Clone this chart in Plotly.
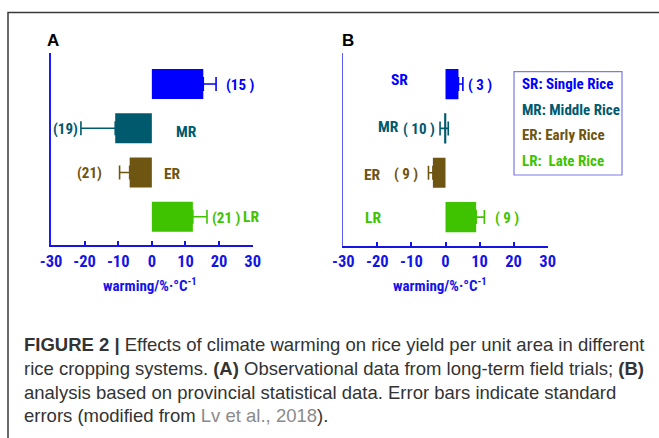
import plotly.graph_objects as go

# ---------------- data ----------------
categories = ["SR", "MR", "ER", "LR"]
legend_names = ["SR: Single Rice", "MR: Middle Rice", "ER: Early Rice", "LR:  Late Rice"]
colors = ["#0000ff", "#005a6e", "#6e5512", "#3fc300"]

a_values = [15.3, -10.9, -6.6, 12.2]
a_err_plus = [3.8, 0.0, 0.0, 4.2]
a_err_minus = [0.0, 10.2, 3.0, 0.0]
a_n = ["(15 )", "(19)", "(21)", "(21 )"]

b_values = [3.8, -0.4, -3.7, 9.0]
b_err_plus = [1.3, 1.2, 0.0, 2.4]
b_err_minus = [0.0, 1.2, 1.3, 0.0]
b_n = ["( 3 )", "( 10 )", "( 9 )", "( 9 )"]

tick_vals = [-30, -20, -10, 0, 10, 20, 30]
tick_text = ["-30", "-20", "-10", "0", "10", "20", "30"]

caption_lines = [
    "<b>FIGURE 2 |</b> Effects of climate warming on rice yield per unit area in different",
    "rice cropping systems. <b>(A)</b> Observational data from long-term field trials; <b>(B)</b>",
    "analysis based on provincial statistical data. Error bars indicate standard",
    "errors (modified from <span style='color:#8a8a8a'>Lv et al., 2018</span>).",
]

# ---------------- layout helpers ----------------
W, H = 659, 438
def px(x):
    return x / W
def py(y):
    return 1 - y / H

NARROW = ("Liberation Sans Narrow, Roboto Condensed, DejaVu Sans Condensed, "
          "Arial Narrow, Liberation Sans, Arial, sans-serif")
AXBLUE = "#1414e6"
def nfont(size, color):
    return dict(family=NARROW, size=size, color=color, weight="bold")

fig = go.Figure()

panels = [
    dict(vals=a_values, ep=a_err_plus, em=a_err_minus, n=a_n, xa="x", ya="y",
         n_shift=[8, -1, -16, 3],
         cat_x=[35.1, 10.2, 6.2, 29.6], cat_dy=[-4, 4, 2, 0]),
    dict(vals=b_values, ep=b_err_plus, em=b_err_minus, n=b_n, xa="x2", ya="y2",
         n_shift=[3, -3, -8, 9],
         cat_x=[-13.4, -16.6, -21.4, -21.4], cat_dy=[-4, -1, 2, 1]),
]

annotations = []
for p in panels:
    for i, cat in enumerate(categories):
        fig.add_trace(go.Bar(
            x=[p["vals"][i]], y=[cat], orientation="h",
            marker=dict(color=colors[i], line=dict(width=0)),
            width=0.68,
            error_x=dict(type="data", symmetric=False,
                         array=[p["ep"][i]], arrayminus=[p["em"][i]],
                         color=colors[i], thickness=1.6, width=7),
            xaxis=p["xa"], yaxis=p["ya"], showlegend=False,
        ))
        v = p["vals"][i]
        if p["n_shift"][i] >= 0:
            xend = v + p["ep"][i]
            anchor = "left"
        else:
            xend = v - p["em"][i]
            anchor = "right"
        annotations.append(dict(
            x=xend, y=cat, xref=p["xa"], yref=p["ya"], text=p["n"][i],
            xanchor=anchor, yanchor="middle", xshift=p["n_shift"][i], yshift=-1,
            showarrow=False, font=nfont(15, colors[i]),
        ))
        annotations.append(dict(
            x=p["cat_x"][i], y=cat, xref=p["xa"], yref=p["ya"], text=cat,
            xanchor="center", yanchor="middle", yshift=-p["cat_dy"][i],
            showarrow=False, font=nfont(15.5, colors[i]),
        ))

xaxis_common = dict(
    range=[-30, 30], tickvals=tick_vals, ticktext=tick_text,
    showline=True, linecolor=AXBLUE, linewidth=2, mirror=False,
    ticks="inside", ticklen=4, tickwidth=2, tickcolor=AXBLUE,
    tickfont=nfont(16.5, AXBLUE),
    showgrid=False, zeroline=False, fixedrange=True,
)
yaxis_common = dict(
    type="category", categoryarray=categories, range=[3.64, -0.70],
    showline=True, linewidth=2, showticklabels=False, ticks="",
    showgrid=False, zeroline=False, fixedrange=True,
)

fig.update_layout(
    width=W, height=H, margin=dict(l=0, r=0, t=0, b=0, autoexpand=False),
    paper_bgcolor="white", plot_bgcolor="white", barmode="overlay",
    xaxis=dict(xaxis_common, domain=[px(51), px(252.7)], anchor="y"),
    yaxis=dict(yaxis_common, domain=[py(245), py(53)], anchor="x", linecolor="#1a1aff"),
    xaxis2=dict(xaxis_common, domain=[px(343.3), px(547.7)], anchor="y2"),
    yaxis2=dict(yaxis_common, domain=[py(245.5), py(53)], anchor="x2",
                linecolor="#5a5af0", linewidth=1.2),
)

for cx in (150, 440):
    annotations.append(dict(
        x=px(cx), y=py(285), xref="paper", yref="paper",
        xanchor="center", yanchor="middle",
        text="warming/%·°C<sup>-1</sup>", showarrow=False,
        font=nfont(15, AXBLUE),
    ))

for letter, lx, ly in (("A", 53, 41), ("B", 348, 41)):
    annotations.append(dict(
        x=px(lx), y=py(ly), xref="paper", yref="paper", text=letter,
        xanchor="center", yanchor="middle", showarrow=False,
        font=dict(family="Liberation Sans, Arial, sans-serif", size=17, color="black", weight="bold"),
    ))

legend_y = [84, 109.5, 135.5, 161]
for i, name in enumerate(legend_names):
    annotations.append(dict(
        x=px(520), y=py(legend_y[i]), xref="paper", yref="paper", text=name,
        xanchor="left", yanchor="middle", showarrow=False,
        font=nfont(15, colors[i]),
    ))

cap_y = [344, 368, 392, 415]
for i, line in enumerate(caption_lines):
    annotations.append(dict(
        x=px(22), y=py(cap_y[i]), xref="paper", yref="paper", text=line,
        xanchor="left", yanchor="middle", showarrow=False,
        font=dict(family="Liberation Sans, Arial, sans-serif", size=18.5, color="#333333"),
    ))

shapes = [
    dict(type="rect", xref="paper", yref="paper",
         x0=px(514), x1=px(622), y0=py(175), y1=py(71.7),
         line=dict(color="#7b7be6", width=1.2), fillcolor="rgba(0,0,0,0)"),
    dict(type="rect", xref="paper", yref="paper",
         x0=px(8), x1=1.05, y0=-0.05, y1=py(12.5),
         line=dict(color="#3a3a3a", width=1.5), fillcolor="rgba(0,0,0,0)"),
]

fig.update_layout(annotations=annotations, shapes=shapes)
fig.write_html(
    "out.html",
    config={"displayModeBar": False},
    post_script="document.body.style.margin='0';document.body.style.overflow='hidden';",
)
